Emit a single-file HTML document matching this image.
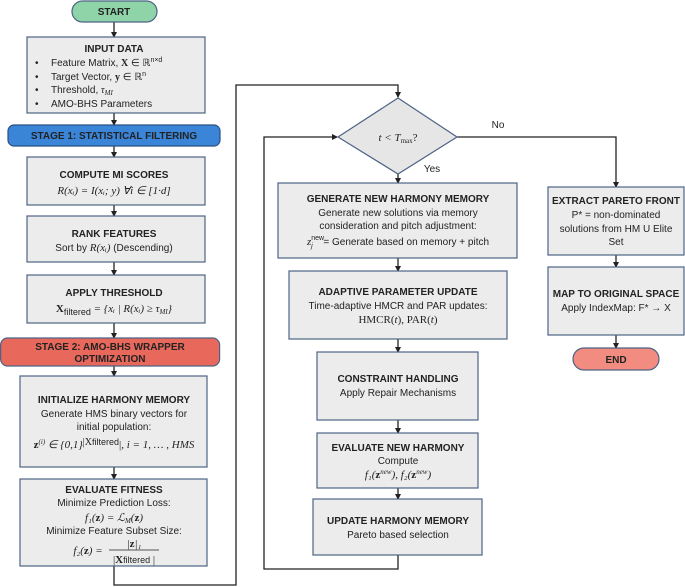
<!DOCTYPE html>
<html><head><meta charset="utf-8"><style>
body{margin:0;background:#fff}
svg{display:block}
text{font-family:"Liberation Sans",sans-serif;fill:#222;text-anchor:middle}
.b{font-weight:bold;font-size:10px}
.n{font-size:10px}
.m{font-family:"Liberation Serif",serif;font-size:11px;font-style:italic}
.up{font-style:normal}
.box{fill:#ececec;stroke:#4d6385;stroke-width:1.2}
.ln{fill:none;stroke:#222;stroke-width:1.3}
</style></head><body>
<svg width="685" height="587" viewBox="0 0 685 587">
<defs><marker id="a" markerWidth="6" markerHeight="6" refX="5" refY="3" orient="auto" markerUnits="userSpaceOnUse"><path d="M0,0 L6,3 L0,6z" fill="#222"/></marker></defs>
<g class="ln" marker-end="url(#a)">
<path d="M114 22 V37"/><path d="M114 113 V125"/><path d="M114 146 V157"/><path d="M114 205 V216"/><path d="M114 262 V275"/><path d="M114 323 V338"/><path d="M114 366 V376"/><path d="M114 467 V479"/>
<path d="M114 566 V585 H236 V85 H398 V97"/>
<path d="M398 173 V183"/><path d="M398 258 V271"/><path d="M398 339 V352"/><path d="M398 420 V433"/><path d="M398 488 V499"/>
<path d="M398 555 V569 H264 V137 H337"/>
<path d="M457 137 H616 V187"/>
<path d="M616 255 V267"/><path d="M616 335 V348"/>
</g>
<rect x="72" y="1" width="85" height="21" rx="10.5" fill="#8fd3a9" stroke="#4d6385" stroke-width="1.2"/>
<text class="b" x="114" y="15">START</text>
<rect class="box" x="27" y="37" width="178" height="76"/>
<text class="b" x="114" y="52">INPUT DATA</text>
<text class="n" x="35" y="66" style="text-anchor:start">•</text><text class="n" x="51" y="66" style="text-anchor:start">Feature Matrix, <tspan font-weight="bold" font-family="Liberation Serif">X</tspan> ∈ ℝ<tspan font-size="7" dy="-4">n×d</tspan></text>
<text class="n" x="35" y="80" style="text-anchor:start">•</text><text class="n" x="51" y="80" style="text-anchor:start">Target Vector, <tspan font-weight="bold" font-family="Liberation Serif">y</tspan> ∈ ℝ<tspan font-size="7" dy="-4">n</tspan></text>
<text class="n" x="35" y="93" style="text-anchor:start">•</text><text class="n" x="51" y="93" style="text-anchor:start">Threshold, <tspan font-style="italic" font-family="Liberation Serif">τ<tspan font-size="7" dy="2">MI</tspan></tspan></text>
<text class="n" x="35" y="107" style="text-anchor:start">•</text><text class="n" x="51" y="107" style="text-anchor:start">AMO-BHS Parameters</text>
<rect x="8" y="125" width="212" height="21" rx="6" fill="#3a85d8" stroke="#2a4f80" stroke-width="1.2"/>
<text class="b" x="114" y="139">STAGE 1: STATISTICAL FILTERING</text>
<rect class="box" x="27" y="157" width="178" height="48"/>
<text class="b" x="114" y="178">COMPUTE MI SCORES</text>
<text class="m" x="114" y="194">R(xᵢ) = I(xᵢ; y) ∀i ∈ [1·d]</text>
<rect class="box" x="27" y="216" width="178" height="46"/>
<text class="b" x="114" y="237">RANK FEATURES</text>
<text class="n" x="114" y="251">Sort by <tspan font-family="Liberation Serif" font-style="italic" font-size="11">R(xᵢ)</tspan>  (Descending)</text>
<rect class="box" x="27" y="275" width="178" height="48"/>
<text class="b" x="114" y="296">APPLY THRESHOLD</text>
<text class="m" x="114" y="312"><tspan font-weight="bold" class="up">X</tspan><tspan font-family="Liberation Sans" class="up" font-size="9" dy="3">filtered</tspan><tspan dy="-3"> = {xᵢ | R(xᵢ) ≥ τ</tspan><tspan font-size="7" dy="2">MI</tspan><tspan dy="-2">}</tspan></text>
<rect x="0.6" y="338" width="219" height="28" rx="7" fill="#e8685c" stroke="#4d6385" stroke-width="1.2"/>
<text class="b" x="110" y="350">STAGE 2: AMO-BHS WRAPPER</text>
<text class="b" x="110" y="362">OPTIMIZATION</text>
<rect class="box" x="20" y="376" width="187" height="91"/>
<text class="b" x="114" y="403">INITIALIZE HARMONY MEMORY</text>
<text class="n" x="114" y="417">Generate HMS binary vectors for</text>
<text class="n" x="114" y="430">initial population:</text>
<text class="m" x="114" y="448"><tspan font-weight="bold" class="up">z</tspan><tspan font-size="7" dy="-4">(i)</tspan><tspan dy="4"> ∈ {0,1}</tspan><tspan font-size="10" dy="-3" class="up">|X</tspan><tspan font-family="Liberation Sans" class="up" font-size="9">filtered</tspan><tspan dy="3" class="up">|</tspan>, i = 1, … , HMS</text>
<rect class="box" x="20" y="479" width="187" height="87"/>
<text class="b" x="114" y="493">EVALUATE FITNESS</text>
<text class="n" x="114" y="506">Minimize Prediction Loss:</text>
<text class="m" x="114" y="521">f₁(<tspan font-weight="bold" class="up">z</tspan>) = ℒ<tspan font-size="7" dy="2">M</tspan><tspan dy="-2">(</tspan><tspan font-weight="bold" class="up">z</tspan>)</text>
<text class="n" x="114" y="534">Minimize Feature Subset Size:</text>
<text class="m" x="88" y="554">f₂(<tspan font-weight="bold" class="up">z</tspan>) =</text>
<text class="m" x="134" y="547">|<tspan font-weight="bold" class="up">z</tspan>|₁</text>
<line x1="109" y1="550" x2="159" y2="550" stroke="#222" stroke-width="0.8"/>
<text x="134" y="563" style="font-size:11px;font-family:'Liberation Serif',serif">|<tspan font-weight="bold">X</tspan><tspan style="font-family:'Liberation Sans',sans-serif" font-size="9">filtered</tspan> |</text>
<polygon points="398,98 457,137 398,174 338,137" fill="#e6e6e6" stroke="#4d6385" stroke-width="1.2"/>
<text class="m" x="398" y="141">t &lt; T<tspan class="up" font-size="7" dy="2">max</tspan><tspan dy="-2" class="up">?</tspan></text>
<text class="n" x="498" y="128">No</text>
<text class="n" x="432" y="172">Yes</text>
<rect class="box" x="278" y="183" width="239" height="75"/>
<text class="b" x="398" y="202">GENERATE NEW HARMONY MEMORY</text>
<text class="n" x="398" y="216">Generate new solutions via memory</text>
<text class="n" x="398" y="229">consideration and pitch adjustment:</text>
<text class="n" x="398" y="245"><tspan font-family="Liberation Serif" font-style="italic" font-size="11">z</tspan><tspan font-size="7" dy="-5">new</tspan><tspan font-size="7" dx="-13" dy="8" font-style="italic">j</tspan><tspan dy="-3" dx="8"> =  Generate based on memory + pitch</tspan></text>
<rect class="box" x="289" y="271" width="218" height="68"/>
<text class="b" x="398" y="295">ADAPTIVE PARAMETER UPDATE</text>
<text class="n" x="398" y="309">Time-adaptive HMCR and PAR updates:</text>
<text x="398" y="323" style="font-size:11px;font-family:'Liberation Serif',serif">HMCR(<tspan font-style="italic">t</tspan>), PAR(<tspan font-style="italic">t</tspan>)</text>
<rect class="box" x="317" y="352" width="161" height="68"/>
<text class="b" x="398" y="382">CONSTRAINT HANDLING</text>
<text class="n" x="398" y="396">Apply Repair Mechanisms</text>
<rect class="box" x="317" y="433" width="161" height="55"/>
<text class="b" x="398" y="451">EVALUATE NEW HARMONY</text>
<text class="n" x="398" y="464">Compute</text>
<text class="m" x="398" y="478">f₁(<tspan font-weight="bold" class="up">z</tspan><tspan font-size="7" dy="-4">new</tspan><tspan dy="4">), f₂(</tspan><tspan font-weight="bold" class="up">z</tspan><tspan font-size="7" dy="-4">new</tspan><tspan dy="4">)</tspan></text>
<rect class="box" x="313" y="499" width="169" height="56"/>
<text class="b" x="398" y="524">UPDATE HARMONY MEMORY</text>
<text class="n" x="398" y="538">Pareto based selection</text>
<rect class="box" x="548" y="187" width="136" height="68"/>
<text class="b" x="616" y="204">EXTRACT PARETO FRONT</text>
<text class="n" x="616" y="218">P* = non-dominated</text>
<text class="n" x="616" y="232">solutions from HM U Elite</text>
<text class="n" x="616" y="245">Set</text>
<rect class="box" x="548" y="267" width="136" height="68"/>
<text class="b" x="616" y="297">MAP TO ORIGINAL SPACE</text>
<text class="n" x="616" y="311">Apply IndexMap: F* → X</text>
<rect x="573" y="348" width="86" height="22" rx="11" fill="#f28b80" stroke="#4d6385" stroke-width="1.2"/>
<text class="b" x="616" y="363">END</text>
</svg>
</body></html>
